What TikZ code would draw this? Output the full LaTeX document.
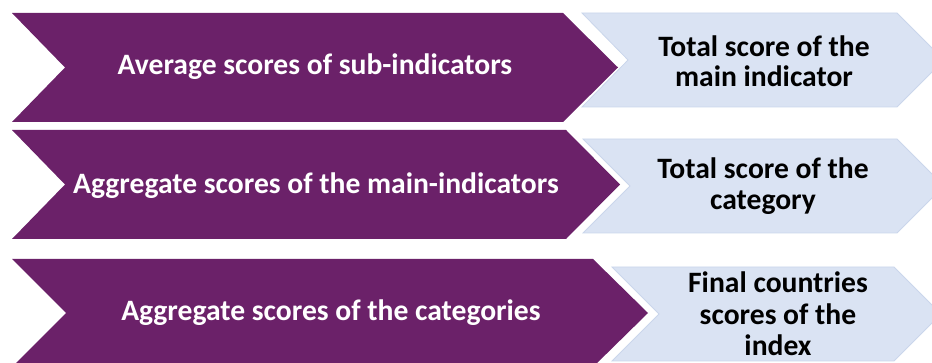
\documentclass[tikz,border=0pt]{standalone}
\usepackage{fontspec}
\setmainfont{Carlito}
\definecolor{plum}{HTML}{6B2169}
\definecolor{paleblue}{HTML}{DAE3F3}
\definecolor{paleedge}{HTML}{CAD6EB}
\begin{document}
\begin{tikzpicture}[x=1pt,y=-1pt,
  leftarrow/.style={fill=plum},
  rightarrow/.style={fill=paleblue, draw=paleedge, line width=0.8pt},
  lefttext/.style={text=white, font=\fontsize{29.6}{30}\selectfont\bfseries, align=center, inner sep=0pt},
  righttext/.style={text=black, font=\fontsize{29.6}{30.5}\selectfont\bfseries, align=center, inner sep=0pt}]
\useasboundingbox (0,0) rectangle (932,363);
\clip (0,0) rectangle (932,363);
% row 1
\fill[leftarrow] (12,13) -- (563,13) -- (618,67.5) -- (563,122) -- (12,122) -- (65,67.5) -- cycle;
\draw[rightarrow] (582,13) -- (897,13) -- (944,60) -- (897,107) -- (582,107) -- (628,60) -- cycle;
% row 2
\fill[leftarrow] (12,130) -- (566,130) -- (620,184.5) -- (566,239) -- (12,239) -- (65,184.5) -- cycle;
\draw[rightarrow] (583,139) -- (897,139) -- (944,186) -- (897,233) -- (583,233) -- (630,186) -- cycle;
% row 3
\fill[leftarrow] (12,259) -- (593,259) -- (648,313) -- (593,367) -- (12,367) -- (66,313) -- cycle;
\draw[rightarrow] (612,267) -- (894,267) -- (941,314) -- (894,361) -- (612,361) -- (659,314) -- cycle;
% texts
\node[lefttext] (l1) at (315,67) {Average scores of sub-indicators};
\node[lefttext] (l2) at (316,186) {Aggregate scores of the main-indicators};
\node[lefttext] (l3) at (331,313) {Aggregate scores of the categories};
\node[righttext] (r1) at (764,61) {Total score of the\\main indicator};
\node[righttext] (r2) at (763,186) {Total score of the\\category};
\node[righttext, font=\fontsize{29.6}{31.5}\selectfont\bfseries] (r3) at (778,314) {Final countries\\scores of the\\index};
\end{tikzpicture}
\end{document}
